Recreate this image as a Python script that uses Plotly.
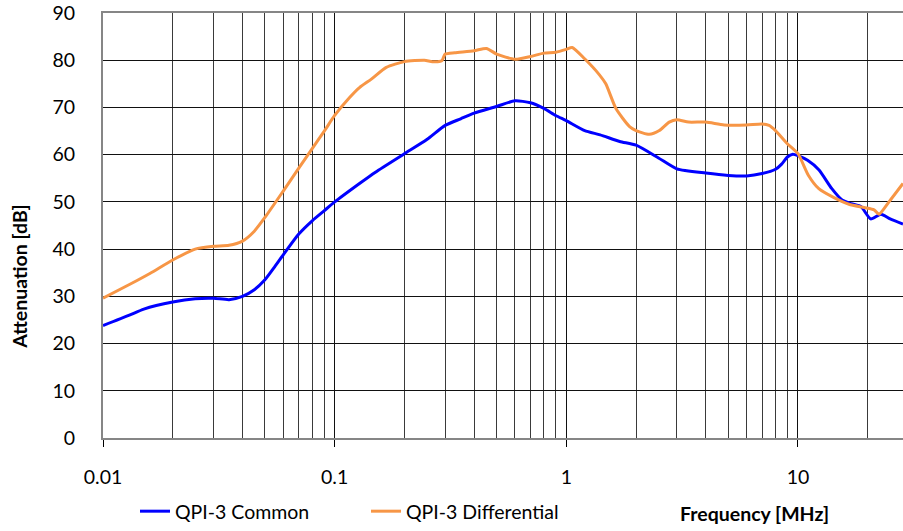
import numpy as np
import plotly.graph_objects as go

# Frequency [MHz] and attenuation [dB]
freq_common = [0.01, 0.013, 0.015, 0.02, 0.025, 0.03, 0.035, 0.04, 0.045, 0.05, 0.055, 0.06, 0.07, 0.08, 0.09,
               0.1, 0.128, 0.15, 0.2, 0.25, 0.3, 0.35, 0.4, 0.5, 0.6, 0.7, 0.8, 0.9, 1.0, 1.2, 1.4,
               1.7, 2.0, 2.5, 3.0, 4.0, 5.0, 6.0, 7.0, 8.0, 8.5, 9.0, 9.5, 10.0, 11.0, 12.3, 14.0,
               15.5, 17.0, 18.7, 20.6, 22.8, 25.0, 28.4]
att_common = [23.8, 26.0, 27.3, 28.8, 29.5, 29.6, 29.3, 30.0, 31.4, 33.5, 36.2, 38.8, 43.2, 46.0, 48.1,
              50.0, 53.9, 56.3, 60.2, 63.2, 66.2, 67.6, 68.8, 70.2, 71.4, 71.0, 69.8, 68.3, 67.2, 65.1, 64.2,
              62.8, 62.0, 59.3, 57.0, 56.1, 55.6, 55.5, 56.0, 56.9, 58.0, 59.5, 60.1, 59.8, 58.8, 56.8, 52.8,
              50.4, 49.6, 49.0, 46.4, 47.4, 46.4, 45.3]

freq_diff = [0.01, 0.013, 0.016, 0.02, 0.025, 0.03, 0.035, 0.04, 0.045, 0.05, 0.06, 0.0706, 0.08, 0.0905,
             0.1, 0.116, 0.128, 0.144, 0.167, 0.2, 0.244, 0.264, 0.29, 0.3, 0.33, 0.4, 0.452, 0.5, 0.6,
             0.7, 0.8, 0.9, 1.0, 1.06, 1.2, 1.39, 1.48, 1.64, 1.87, 2.0, 2.28, 2.52, 2.78, 3.0, 3.37,
             4.0, 4.8, 6.0, 7.0, 7.5, 8.0, 9.0, 10.0, 11.1, 12.3, 14.3, 16.6, 19.3, 21.3, 22.4, 24.7, 28.4]
att_diff = [29.6, 32.5, 34.9, 37.7, 40.0, 40.6, 40.8, 41.7, 43.8, 46.7, 52.3, 57.4, 61.3, 65.1,
            68.3, 72.1, 74.2, 76.0, 78.5, 79.7, 80.0, 79.7, 79.9, 81.3, 81.6, 82.0, 82.5, 81.3, 80.2,
            80.8, 81.5, 81.7, 82.3, 82.7, 80.3, 76.9, 75.0, 69.7, 66.0, 65.1, 64.3, 65.1, 66.9, 67.4, 66.9,
            66.9, 66.3, 66.3, 66.5, 66.2, 65.1, 62.3, 60.2, 55.6, 52.8, 50.9, 49.5, 48.8, 48.3, 47.4, 50.0, 53.9]

x_tick_vals = [0.01, 0.1, 1, 10]
x_tick_text = ["0.01", "0.1", "1", "10"]
y_tick_vals = [0, 10, 20, 30, 40, 50, 60, 70, 80, 90]

minor_vals = [m * d for d in [0.01, 0.1, 1, 10] for m in range(2, 10)]

FONT = "Lato"
FS = 19.5
fig = go.Figure()
fig.add_trace(go.Scatter(x=freq_common, y=att_common, mode="lines", name="QPI-3 Common",
                         line=dict(color="#0000FF", width=3, shape="spline", smoothing=0.6)))
fig.add_trace(go.Scatter(x=freq_diff, y=att_diff, mode="lines", name="QPI-3 Differential",
                         line=dict(color="#F79646", width=3, shape="spline", smoothing=0.6)))

fig.update_layout(
    width=903, height=531,
    margin=dict(l=103, r=0, t=13, b=90),
    paper_bgcolor="white", plot_bgcolor="white",
    font=dict(family=FONT, size=FS, color="#000000"),
    showlegend=True,
    legend=dict(orientation="h", x=0.04, xanchor="left", y=-0.173, yanchor="middle",
                font=dict(family=FONT, size=FS), entrywidth=186, entrywidthmode="pixels",
                bgcolor="rgba(0,0,0,0)"),
)
fig.update_xaxes(type="log", range=[-2, np.log10(28.4)],
                 tickvals=x_tick_vals, ticktext=x_tick_text,
                 showgrid=True, gridcolor="#111111", gridwidth=1,
                 minor=dict(tickvals=minor_vals, showgrid=True, gridcolor="#3a3a3a", gridwidth=1, ticks=""),
                 ticks="outside", ticklen=7, tickcolor="#000000", tickwidth=1,
                 ticklabelstandoff=14,
                 showline=True, linecolor="#868686", linewidth=2, mirror=True,
                 zeroline=False, tickfont=dict(family=FONT, size=FS))
fig.update_yaxes(range=[0, 90], tickvals=y_tick_vals,
                 showgrid=True, gridcolor="#111111", gridwidth=1,
                 ticks="", ticklabelstandoff=22,
                 showline=True, linecolor="#868686", linewidth=2,
                 zeroline=False, tickfont=dict(family=FONT, size=FS))

fig.add_annotation(text="<b>Attenuation [dB]</b>", textangle=-90, xref="paper", yref="paper",
                   x=-0.104, y=0.379, xanchor="center", yanchor="middle", showarrow=False,
                   font=dict(family=FONT, size=FS))
fig.add_annotation(text="<b>Frequency [MHz]</b>", xref="paper", yref="paper",
                   x=0.814, y=-0.178, xanchor="center", yanchor="middle", showarrow=False,
                   font=dict(family=FONT, size=FS))

fig.write_html("out.html",
               config={"displayModeBar": False},
               post_script="document.body.style.margin='0px'; document.body.style.overflow='hidden';")
